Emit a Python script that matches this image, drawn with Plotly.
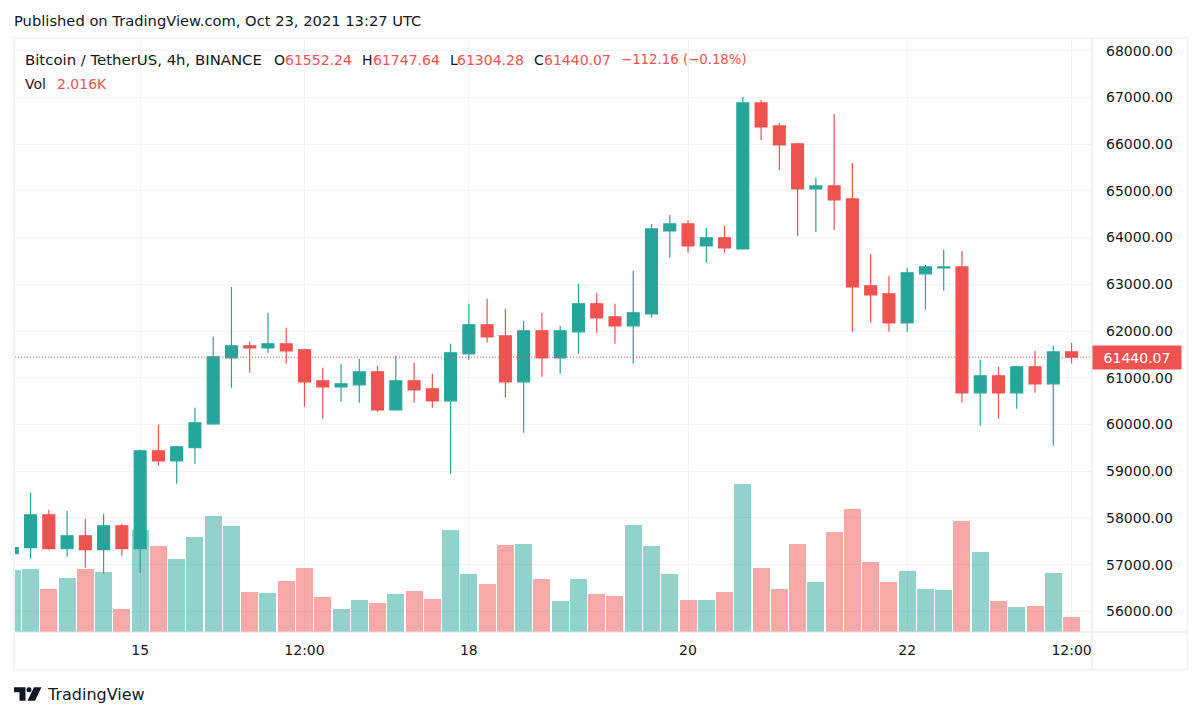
import plotly.graph_objects as go

# BTCUSDT 4h candles
opens = [57234, 57363, 58068, 57341, 57619, 57320, 57833, 57341, 59437, 59223,
         59502, 60015, 61427, 61683, 61641, 61726, 61598, 60935, 60806, 60849,
         61127, 60314, 60935, 60764, 60507, 61512, 62133, 61897, 60913, 62004,
         61427, 61983, 62582, 62304, 62111, 62368, 64143, 64293, 63822, 63994,
         63758, 66881, 66389, 66004, 65042, 65106, 64828, 62967, 62796, 62175,
         63224, 63352, 63373, 60678, 61042, 60678, 61234, 60871, 61552.24]
highs = [57363, 58539, 58175, 58154, 57983, 58090, 57876, 59459, 59994, 59544,
         60357, 61876, 62945, 61769, 62389, 62068, 61619, 61213, 61298, 61405,
         61256, 61469, 61320, 61084, 61726, 62582, 62689, 62475, 62218, 62389,
         62111, 63010, 62817, 62582, 63288, 64293, 64486, 64379, 64207, 64250,
         67010, 66945, 66453, 66026, 65277, 66646, 65598, 63651, 63181, 63352,
         63416, 63737, 63715, 61384, 61234, 61256, 61576, 61683, 61747.64]
lows = [57234, 57127, 57320, 57170, 56935, 56806, 57191, 56828, 59117, 58732,
        59159, 59994, 60785, 61106, 61534, 61298, 60379, 60122, 60486, 60464,
        60272, 60314, 60464, 60357, 58945, 61384, 61748, 60571, 59822, 61020,
        61084, 61512, 61961, 61726, 61298, 62282, 63566, 63673, 63459, 63673,
        63737, 66090, 65448, 64036, 64122, 64165, 61983, 62175, 61983, 61983,
        62453, 62860, 60464, 59972, 60122, 60336, 60678, 59544, 61304.28]
closes = [57363, 58068, 57341, 57619, 57320, 57833, 57341, 59437, 59223, 59523,
          60036, 61448, 61683, 61641, 61726, 61576, 60913, 60806, 60871, 61127,
          60314, 60935, 60742, 60507, 61534, 62133, 61876, 60913, 62004, 61427,
          62004, 62582, 62282, 62111, 62389, 64186, 64293, 63822, 63994, 63780,
          66881, 66368, 65983, 65042, 65106, 64806, 62945, 62774, 62175, 63245,
          63373, 63373, 60678, 61042, 60678, 61234, 60871, 61552, 61440.07]
volumes = [8196, 8328, 5698, 7144, 8328, 7933, 3068, 13456, 11352, 9643,
           12535, 15297, 13982, 5303, 5172, 6750, 8459, 4646, 3068, 4252,
           3857, 5040, 5435, 4383, 13456, 7670, 6355, 11483, 11615, 7013,
           4120, 7013, 5040, 4777, 14113, 11352, 7670, 4252, 4252, 5303,
           19504, 8459, 5698, 11615, 6618, 13193, 16217, 9248, 6618, 8065,
           5698, 5566, 14639, 10563, 4120, 3331, 3463, 7802, 2016]

tick_index = [7, 16, 25, 37, 49, 58]
tick_labels = ["15", "12:00", "18", "20", "22", "12:00"]
price_ticks = [56000, 57000, 58000, 59000, 60000, 61000, 62000, 63000, 64000,
               65000, 66000, 67000, 68000]
last_price = 61440.07

W, H = 1202, 718
L, R, T, B = 15, 1092.5, 39, 632.3
FONT = "DejaVu Sans"
DARK = "#131722"
UP = "#26a69a"
DOWN = "#ef5350"
GRID = "#f2f3f6"


def fx(px):
    return (px - L) / (R - L)


def fy(py):
    return (B - py) / (B - T)


x = list(range(len(opens)))
bar_colors = ["rgba(38,166,154,0.5)" if c >= o else "rgba(239,83,80,0.5)"
              for o, c in zip(opens, closes)]

fig = go.Figure()
fig.add_trace(go.Bar(x=x, y=volumes, marker=dict(color=bar_colors, line_width=0),
                     width=0.93, yaxis="y", hoverinfo="skip"))
fig.add_trace(go.Candlestick(x=x, open=opens, high=highs, low=lows, close=closes,
                             yaxis="y2", whiskerwidth=0,
                             increasing=dict(line=dict(color=UP, width=1.2), fillcolor=UP),
                             decreasing=dict(line=dict(color=DOWN, width=1.2), fillcolor=DOWN)))

shapes = [
    # outer frame and separators
    dict(type="rect", xref="paper", yref="paper", x0=fx(14), x1=fx(1188), y0=fy(670), y1=fy(38),
         line=dict(color="#f0f3fa", width=2), layer="below"),
    dict(type="line", xref="paper", yref="paper", x0=1, x1=1, y0=fy(670), y1=fy(39),
         line=dict(color="#e0e3eb", width=1)),
    dict(type="line", xref="paper", yref="paper", x0=0, x1=fx(1187), y0=0, y1=0,
         line=dict(color="#e0e3eb", width=1)),
    # last price dotted line
    dict(type="line", xref="paper", yref="y2", x0=0, x1=1, y0=last_price, y1=last_price,
         line=dict(color=DOWN, width=1, dash="1px,2px")),
    # logo
    dict(type="path", xref="paper", yref="paper", fillcolor=DARK, line_width=0,
         path=f"M{fx(14)},{fy(687.5)} L{fx(25.5)},{fy(687.5)} L{fx(25.5)},{fy(701)} L{fx(19.5)},{fy(701)} "
              f"L{fx(19.5)},{fy(692.5)} L{fx(14)},{fy(692.5)} Z"),
    dict(type="circle", xref="paper", yref="paper", fillcolor=DARK, line_width=0,
         x0=fx(26.5), x1=fx(31.5), y0=fy(692.5), y1=fy(687.5)),
    dict(type="path", xref="paper", yref="paper", fillcolor=DARK, line_width=0,
         path=f"M{fx(34)},{fy(687.5)} L{fx(41.5)},{fy(687.5)} L{fx(35)},{fy(701)} L{fx(27.5)},{fy(701)} Z"),
]


def label(px, py, text, color=DARK, size=14):
    # annotations sit about 2px in from their anchor
    return dict(xref="paper", yref="paper", x=fx(px - 2), y=fy(py), text=text, showarrow=False,
                xanchor="left", yanchor="middle", align="left",
                font=dict(family=FONT, size=size, color=color))


annotations = [
    label(14, 20, "Published on TradingView.com, Oct 23, 2021 13:27 UTC", DARK, 14.7),
    label(25, 60, "Bitcoin / TetherUS, 4h, BINANCE", DARK, 14.9),
    label(274, 60, "O"),
    label(285, 60, "61552.24", DOWN),
    label(362, 60, "H"),
    label(373, 60, "61747.64", DOWN),
    label(450, 60, "L"),
    label(457, 60, "61304.28", DOWN),
    label(534, 60, "C"),
    label(544, 60, "61440.07", DOWN),
    label(621, 60, "−112.16 (−0.18%)", DOWN, 13.3),
    label(25, 84, "Vol"),
    label(57, 84, "2.016K", DOWN),
    label(47, 695, "TradingView", DARK, 16),
    # price tag on the axis
    dict(xref="paper", yref="y2", x=1, y=last_price, text=f"{last_price:.2f}", showarrow=False,
         xanchor="left", yanchor="middle", width=86, height=21, bgcolor=DOWN, align="center",
         font=dict(family=FONT, size=14, color="#ffffff")),
]

fig.update_layout(
    width=W, height=H,
    margin=dict(l=L, r=W - R, t=T, b=H - B, autoexpand=False),
    paper_bgcolor="#ffffff", plot_bgcolor="#ffffff",
    showlegend=False, bargap=0, boxgap=0.35, boxgroupgap=0,
    font=dict(family=FONT, size=14, color=DARK),
    xaxis=dict(range=[0.148, 59.12], tickmode="array", tickvals=tick_index, ticktext=tick_labels,
               showgrid=True, gridcolor=GRID, gridwidth=1, zeroline=False, showline=False,
               ticks="", rangeslider=dict(visible=False), tickfont=dict(size=14, color=DARK),
               ticklabelstandoff=8),
    yaxis=dict(range=[0, 78197], visible=False, showgrid=False, zeroline=False),
    yaxis2=dict(range=[55559, 68250], overlaying="y", side="right", anchor="x",
                tickmode="array", tickvals=price_ticks, tickformat=".2f",
                showgrid=True, gridcolor=GRID, gridwidth=1, zeroline=False, showline=False,
                ticks="", tickfont=dict(size=14, color=DARK), ticklabelstandoff=13),
    shapes=shapes, annotations=annotations,
)

# the page keeps the browser's default 8px body margin otherwise
fig.write_html("out.html", config=dict(displayModeBar=False),
               post_script="document.body.style.margin='0';")
